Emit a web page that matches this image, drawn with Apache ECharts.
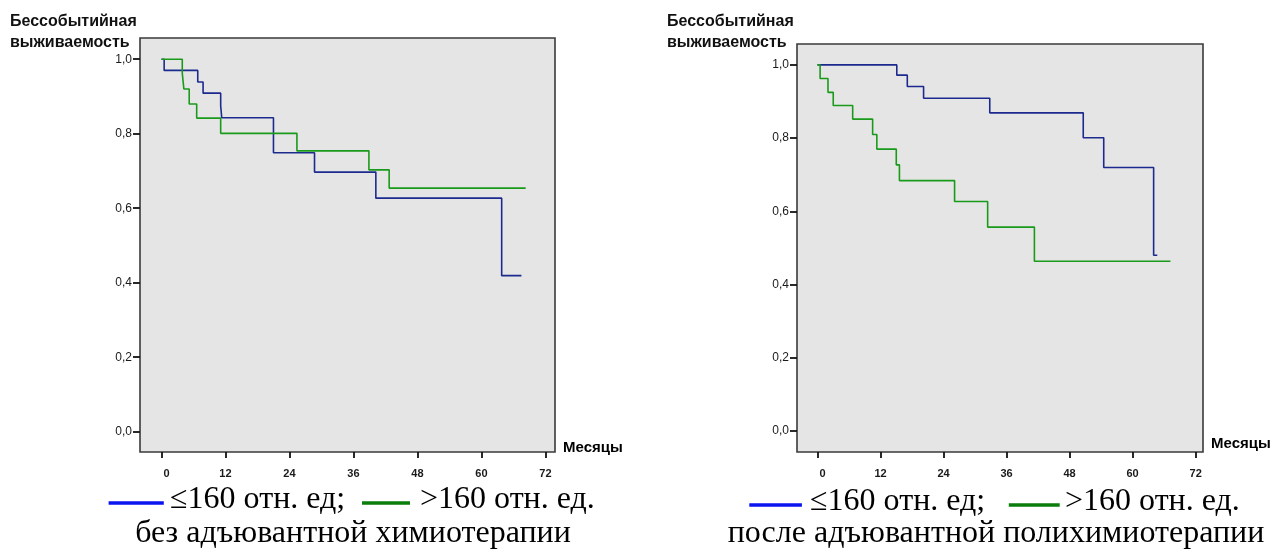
<!DOCTYPE html>
<html>
<head>
<meta charset="utf-8">
<script src="https://cdn.jsdelivr.net/npm/echarts@6.0.0/dist/echarts.min.js"></script>
<style>
  html, body { margin: 0; padding: 0; background: #ffffff; }
  #chart { width: 1281px; height: 552px; }
</style>
</head>
<body>
<div id="chart"></div>
<script>
// ---- Data (months, event-free survival) ----
const xTicks = [0, 12, 24, 36, 48, 60, 72];
const yTicks = [0, 0.2, 0.4, 0.6, 0.8, 1.0];

const seriesNames = ['≤160 отн. ед;', '>160 отн. ед.'];
const captionLeft = 'без адъювантной химиотерапии';
const captionRight = 'после адъювантной полихимиотерапии';
const yTitle = 'Бессобытийная\nвыживаемость';
const xTitle = 'Месяцы';

// Left panel: without adjuvant chemotherapy
const leftLowTimes = [0, 0.5, 6.8, 7.8, 11.1, 11.3, 21.0, 28.7, 40.2, 63.8, 67.5];
const leftLowSurv  = [1.0, 0.970, 0.939, 0.909, 0.875, 0.843, 0.749, 0.697, 0.627, 0.419, 0.419];
const leftHighTimes = [0, 3.9, 4.2, 5.2, 6.6, 11.1, 25.4, 38.9, 42.7, 68.3];
const leftHighSurv  = [1.0, 0.962, 0.920, 0.880, 0.842, 0.801, 0.754, 0.703, 0.654, 0.654];

// Right panel: after adjuvant polychemotherapy
const rightLowTimes = [0, 15.1, 17.1, 20.2, 32.8, 50.6, 54.5, 64.0, 64.7];
const rightLowSurv  = [1.0, 0.972, 0.941, 0.909, 0.869, 0.801, 0.720, 0.480, 0.480];
const rightHighTimes = [0, 0.5, 2.0, 3.0, 6.7, 10.5, 11.3, 15.0, 15.6, 26.1, 32.4, 41.3, 67.2];
const rightHighSurv  = [1.0, 0.963, 0.925, 0.889, 0.852, 0.810, 0.770, 0.727, 0.684, 0.627, 0.557, 0.464, 0.464];

// ---- Styles ----
const LINE_BLUE = '#1c2a8e';
const LINE_GREEN = '#1a9a1a';
const LEG_BLUE = '#0a14f0';
const LEG_GREEN = '#0a7d0a';
const SANS = '"Liberation Sans", Arial, sans-serif';
const SERIF = '"Liberation Serif", "Times New Roman", serif';

const zip = (t, s) => t.map((v, i) => [v, s[i]]);
const fmtY = v => v.toFixed(1).replace('.', ',');
const fmtX = v => (v === 0 ? '{z|0}' : String(v));

function xAxisCfg(gi, min, max, namePadBottom) {
  return {
    type: 'value', gridIndex: gi, min: min, max: max, position: 'bottom',
    axisLine: { show: false, onZero: false },
    splitLine: { show: false },
    axisTick: { show: true, customValues: xTicks, length: 6, lineStyle: { color: '#111', width: 1.8 } },
    axisLabel: {
      customValues: xTicks, margin: 16, fontSize: 11, fontWeight: 'bold', color: '#1a1a1a', fontFamily: SANS,
      formatter: fmtX,
      rich: { z: { fontSize: 11, fontWeight: 'bold', color: '#1a1a1a', fontFamily: SANS, padding: [0, 0, 0, 10] } }
    },
    name: xTitle, nameLocation: 'end', nameGap: 8,
    nameTextStyle: { fontSize: 15, fontWeight: 'bold', color: '#000', fontFamily: SANS, align: 'left', verticalAlign: 'bottom', padding: [0, 0, namePadBottom, 0] }
  };
}
function yAxisCfg(gi, min, max) {
  return {
    type: 'value', gridIndex: gi, min: min, max: max, position: 'left',
    axisLine: { show: false, onZero: false },
    splitLine: { show: false },
    axisTick: { show: true, customValues: yTicks, length: 7, lineStyle: { color: '#111', width: 1.8 } },
    axisLabel: { customValues: yTicks, margin: 8, fontSize: 12, color: '#1a1a1a', fontFamily: SANS, formatter: fmtY }
  };
}
function lineSeries(name, xi, data, color) {
  return {
    name: name, type: 'line', step: 'end', xAxisIndex: xi, yAxisIndex: xi,
    data: data, showSymbol: false, symbol: 'none', silent: true,
    lineStyle: { color: color, width: 1.6 }, itemStyle: { color: color }
  };
}

const chart = echarts.init(document.getElementById('chart'), null, { renderer: 'canvas' });

function legendRow(lineBlue, textBlueX, lineGreen, textGreenX, y) {
  return [
    { type: 'line', shape: { x1: lineBlue[0], y1: y, x2: lineBlue[1], y2: y }, style: { stroke: LEG_BLUE, lineWidth: 3.5 } },
    { type: 'text', x: textBlueX, y: y - 3, style: { text: seriesNames[0], font: '32px ' + SERIF, fill: '#000', align: 'left', verticalAlign: 'middle' } },
    { type: 'line', shape: { x1: lineGreen[0], y1: y, x2: lineGreen[1], y2: y }, style: { stroke: LEG_GREEN, lineWidth: 3.5 } },
    { type: 'text', x: textGreenX, y: y - 3, style: { text: seriesNames[1], font: '32px ' + SERIF, fill: '#000', align: 'left', verticalAlign: 'middle' } }
  ];
}

const option = {
  backgroundColor: '#ffffff',
  animation: false,
  title: [
    { text: yTitle, left: 10, top: 11, padding: 0, textStyle: { fontSize: 16, fontWeight: 'bold', color: '#111', fontFamily: SANS, lineHeight: 21 } },
    { text: yTitle, left: 667, top: 11, padding: 0, textStyle: { fontSize: 16, fontWeight: 'bold', color: '#111', fontFamily: SANS, lineHeight: 21 } }
  ],
  grid: [
    { left: 140, top: 38, width: 415, height: 414, show: true, backgroundColor: '#e5e5e5', borderColor: '#3a3a3a', borderWidth: 1.6 },
    { left: 797, top: 44, width: 406, height: 408, show: true, backgroundColor: '#e5e5e5', borderColor: '#3a3a3a', borderWidth: 1.6 }
  ],
  xAxis: [xAxisCfg(0, -4.03, 73.8, -3), xAxisCfg(1, -3.9, 73.4, 1)],
  yAxis: [yAxisCfg(0, -0.0545, 1.057), yAxisCfg(1, -0.057, 1.057)],
  series: [
    lineSeries(seriesNames[0], 0, zip(leftLowTimes, leftLowSurv), LINE_BLUE),
    lineSeries(seriesNames[1], 0, zip(leftHighTimes, leftHighSurv), LINE_GREEN),
    lineSeries(seriesNames[0], 1, zip(rightLowTimes, rightLowSurv), LINE_BLUE),
    lineSeries(seriesNames[1], 1, zip(rightHighTimes, rightHighSurv), LINE_GREEN)
  ],
  graphic: [].concat(
    legendRow([108.6, 163.8], 170, [362, 410], 420, 503),
    legendRow([749.3, 801.9], 810, [1008.8, 1059.7], 1065, 505),
    [
      { type: 'text', x: 353, y: 534, style: { text: captionLeft, font: '32px ' + SERIF, fill: '#000', align: 'center', verticalAlign: 'middle' } },
      { type: 'text', x: 996, y: 534, style: { text: captionRight, font: '32px ' + SERIF, fill: '#000', align: 'center', verticalAlign: 'middle' } }
    ]
  )
};
chart.setOption(option);
</script>
</body>
</html>
